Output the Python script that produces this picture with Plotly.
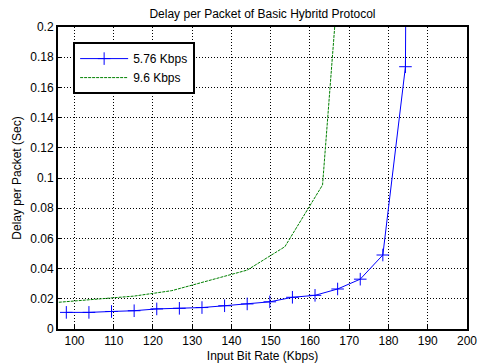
import plotly.graph_objects as go

title = "Delay per Packet of Basic Hybritd Protocol"
x_label = "Input Bit Rate (Kbps)"
y_label = "Delay per Packet (Sec)"

names = ["5.76 Kbps", "9.6 Kbps"]

x_576 = [97.92, 103.68, 109.44, 115.2, 120.96, 126.72, 132.48, 138.24, 144.0,
         149.76, 155.52, 161.28, 167.04, 172.8, 178.56, 184.32, 190.08]
y_576 = [0.0110, 0.0110, 0.0116, 0.0121, 0.0133, 0.0137, 0.0142, 0.0154, 0.0166,
         0.0180, 0.0210, 0.0223, 0.0265, 0.0330, 0.0490, 0.1737, 3.0]

x_96 = [96.0, 105.6, 115.2, 124.8, 134.4, 144.0, 153.6, 163.2, 172.8]
y_96 = [0.0177, 0.0196, 0.0218, 0.0254, 0.0320, 0.0390, 0.0545, 0.0954, 0.42]

x_ticks = [100, 110, 120, 130, 140, 150, 160, 170, 180, 190, 200]
y_ticks = [0, 0.02, 0.04, 0.06, 0.08, 0.1, 0.12, 0.14, 0.16, 0.18, 0.2]
y_tick_text = ["0", "0.02", "0.04", "0.06", "0.08", "0.1", "0.12", "0.14", "0.16", "0.18", "0.2"]

FONT = "Liberation Sans, Arial, sans-serif"
FS = 12

fig = go.Figure()
fig.add_trace(go.Scatter(
    x=x_576, y=y_576, name=names[0], mode="lines+markers",
    line=dict(color="#0000ff", width=1),
    marker=dict(symbol="cross-thin", size=9, line=dict(color="#0000ff", width=1)),
))
fig.add_trace(go.Scatter(
    x=x_96, y=y_96, name=names[1], mode="lines",
    line=dict(color="#008000", width=1, dash="3px,1px"),
))

axis_common = dict(
    showline=True, linecolor="black", linewidth=2, mirror=True,
    ticks="inside", ticklen=4, tickcolor="black",
    showgrid=True, gridcolor="black", gridwidth=1, griddash="1px,2px",
    zeroline=False, automargin=False,
    tickfont=dict(family=FONT, size=FS, color="black"),
)

fig.update_xaxes(range=[95.8, 200], tickvals=x_ticks,
                 title=dict(text=x_label, font=dict(family=FONT, size=FS, color="black"), standoff=4),
                 **axis_common)
fig.update_yaxes(range=[0, 0.2], tickvals=y_ticks, ticktext=y_tick_text,
                 title=dict(text=y_label, font=dict(family=FONT, size=FS, color="black"), standoff=6),
                 **axis_common)

fig.update_layout(
    width=478, height=363,
    margin=dict(l=58, r=11, t=27, b=34),
    paper_bgcolor="white", plot_bgcolor="white",
    title=dict(text=title, xref="paper", x=0.5, xanchor="center",
               yref="container", y=1 - 14 / 363, yanchor="middle",
               font=dict(family=FONT, size=FS, color="black")),
    font=dict(family=FONT, size=FS, color="black"),
    legend=dict(x=0.037, y=0.95, xanchor="left", yanchor="top",
                bgcolor="white", bordercolor="black", borderwidth=2,
                font=dict(family=FONT, size=FS, color="black"),
                itemwidth=48, tracegroupgap=0),
    showlegend=True,
)

fig.write_html("out.html", config={"displayModeBar": False},
               post_script="document.body.style.margin='0px';")
